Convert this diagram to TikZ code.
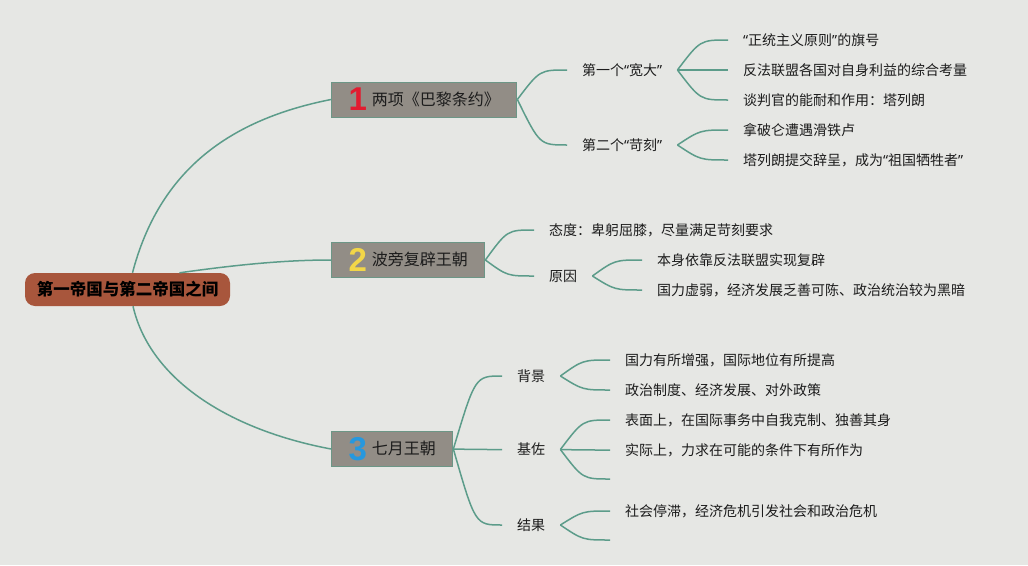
\documentclass[tikz,border=0pt]{standalone}
\usepackage{fontspec}
\setmainfont{Noto Sans CJK SC}
\newfontfamily\numfont{Liberation Sans}
\newfontfamily\latinq{Noto Sans}
\usetikzlibrary{calc}
\definecolor{bg}{RGB}{230,231,228}
\definecolor{edge}{RGB}{92,156,138}
\definecolor{boxfill}{RGB}{146,141,134}
\definecolor{boxline}{RGB}{108,150,134}
\definecolor{rootfill}{RGB}{168,86,60}
\definecolor{numred}{RGB}{226,28,48}
\definecolor{numyellow}{RGB}{242,214,72}
\definecolor{numblue}{RGB}{38,152,222}
\definecolor{ink}{RGB}{28,28,28}
\newcommand\mynum[2]{\raisebox{-5.8pt}{\numfont\bfseries\fontsize{33}{33}\selectfont\textcolor{#1}{#2}}\hspace{5pt}}
\newcommand\oqt{{\latinq “}}
\newcommand\cqt{{\latinq ”}}
\begin{document}
\begin{tikzpicture}[x=1pt,y=-1pt,
  conn/.style={draw=edge,line width=1.5pt},
  branch/.style={to path={let \p1=(\tikztostart),\p2=(\tikztotarget) in .. controls ({0.55*\x1+0.45*\x2},\y2) .. (\tikztotarget)}},
  rootbox/.style={fill=rootfill,rounded corners=10pt,minimum width=205pt,minimum height=33pt,inner sep=0pt,font=\bfseries\fontsize{16.5}{19}\selectfont,text=black},
  topicbox/.style={fill=boxfill,draw=boxline,line width=1pt,minimum height=35pt,inner xsep=17pt,inner ysep=0pt,anchor=west,font=\fontsize{16}{18}\selectfont,text=ink},
  leaf/.style={anchor=west,inner xsep=15pt,inner ysep=2pt,font=\fontsize{14}{16}\selectfont,text=ink},
]
\fill[bg] (0,0) rectangle (1028,565);
\useasboundingbox (0,0) rectangle (1028,565);

\node[rootbox] (root) at (127.5,289.5) {第一帝国与第二帝国之间};
\node[topicbox] (t1) at (331,99.5) {\mynum{numred}{1}两项《巴黎条约》};
\node[topicbox] (t2) at (331,260) {\mynum{numyellow}{2}波旁复辟王朝};
\node[topicbox] (t3) at (331,449) {\mynum{numblue}{3}七月王朝};

\node[leaf] (a1) at (567,70) {第一个\oqt 宽大\cqt};
\node[leaf] (a2) at (567,145) {第二个\oqt 苛刻\cqt};
\node[leaf] (a11) at (728,40) {\oqt 正统主义原则\cqt 的旗号};
\node[leaf] (a12) at (728,70) {反法联盟各国对自身利益的综合考量};
\node[leaf] (a13) at (728,100) {谈判官的能耐和作用：塔列朗};
\node[leaf] (a21) at (728,130) {拿破仑遭遇滑铁卢};
\node[leaf] (a22) at (728,160) {塔列朗提交辞呈，成为\oqt 祖国牺牲者\cqt};

\node[leaf] (b1) at (534,230) {态度：卑躬屈膝，尽量满足苛刻要求};
\node[leaf] (b2) at (534,276) {原因};
\node[leaf] (b21) at (642,260) {本身依靠反法联盟实现复辟};
\node[leaf] (b22) at (642,290) {国力虚弱，经济发展乏善可陈、政治统治较为黑暗};

\node[leaf] (c1) at (502,376) {背景};
\node[leaf] (c2) at (502,449.5) {基佐};
\node[leaf] (c3) at (502,525) {结果};
\node[leaf] (c11) at (610,360) {国力有所增强，国际地位有所提高};
\node[leaf] (c12) at (610,390) {政治制度、经济发展、对外政策};
\node[leaf] (c21) at (610,420) {表面上，在国际事务中自我克制、独善其身};
\node[leaf] (c22) at (610,450) {实际上，力求在可能的条件下有所作为};
\coordinate (c23) at (610,479);
\node[leaf] (c31) at (610,511) {社会停滞，经济危机引发社会和政治危机};
\coordinate (c32) at (610,540);

\draw[conn] ([xshift=5pt]root.north) .. controls +(27,-103) and +(-101,20) .. (t1.west);
\draw[conn] ([xshift=52pt]root.north) .. controls +(50,-7) and +(-51,0) .. (t2.west);
\draw[conn] ([xshift=5.5pt]root.south) .. controls +(17,74) and +(-101,-19) .. (t3.west);

\draw[conn] (t1.east) to[branch] (a1.west);
\draw[conn] (t1.east) to[branch] (a2.west);
\draw[conn] (a1.east) to[branch] (a11.west);
\draw[conn] (a1.east) to[branch] (a12.west);
\draw[conn] (a1.east) to[branch] (a13.west);
\draw[conn] (a2.east) to[branch] (a21.west);
\draw[conn] (a2.east) to[branch] (a22.west);

\draw[conn] (t2.east) to[branch] (b1.west);
\draw[conn] (t2.east) to[branch] (b2.west);
\draw[conn] (b2.east) to[branch] (b21.west);
\draw[conn] (b2.east) to[branch] (b22.west);

\draw[conn] (t3.east) to[branch] (c1.west);
\draw[conn] (t3.east) to[branch] (c2.west);
\draw[conn] (t3.east) to[branch] (c3.west);
\draw[conn] (c1.east) to[branch] (c11.west);
\draw[conn] (c1.east) to[branch] (c12.west);
\draw[conn] (c2.east) to[branch] (c21.west);
\draw[conn] (c2.east) to[branch] (c22.west);
\draw[conn] (c2.east) to[branch] (c23);
\draw[conn] (c3.east) to[branch] (c31.west);
\draw[conn] (c3.east) to[branch] (c32);
\end{tikzpicture}
\end{document}
